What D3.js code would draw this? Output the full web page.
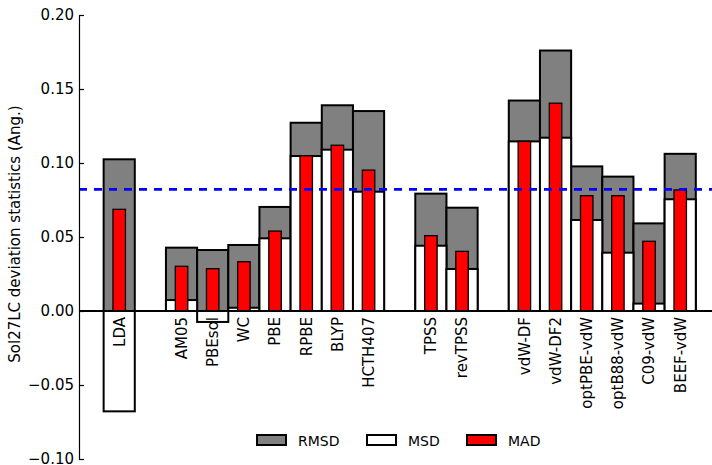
<!DOCTYPE html>
<html>
<head>
<meta charset="utf-8">
<script src="https://cdn.jsdelivr.net/npm/d3@7"></script>
<style>
  html, body { margin: 0; padding: 0; background: #fff; }
  svg { display: block; font-family: "DejaVu Sans", sans-serif; }
</style>
</head>
<body>
<svg id="chart" width="712" height="465"></svg>
<script>
// Sol27LC lattice-constant deviation statistics per functional (Å)
const categories = ["LDA", "AM05", "PBEsol", "WC", "PBE", "RPBE", "BLYP", "HCTH407",
  "TPSS", "revTPSS", "vdW-DF", "vdW-DF2", "optPBE-vdW", "optB88-vdW", "C09-vdW", "BEEF-vdW"];
const families = ["LDA", "GGA", "GGA", "GGA", "GGA", "GGA", "GGA", "GGA",
  "MGGA", "MGGA", "vdW", "vdW", "vdW", "vdW", "vdW", "vdW"];
const rmsd = [0.1025, 0.0428, 0.0412, 0.0446, 0.0703, 0.1272, 0.1390, 0.1351,
  0.0793, 0.0698, 0.1422, 0.1760, 0.0977, 0.0908, 0.0592, 0.1062];
const msd = [-0.0678, 0.0074, -0.0074, 0.0022, 0.0491, 0.1047, 0.1090, 0.0806,
  0.0441, 0.0284, 0.1146, 0.1171, 0.0615, 0.0394, 0.0050, 0.0755];
const mad = [0.0687, 0.0302, 0.0286, 0.0333, 0.0540, 0.1049, 0.1120, 0.0952,
  0.0509, 0.0403, 0.1146, 0.1404, 0.0779, 0.0779, 0.0471, 0.0818];
const referenceLine = 0.0822;
const yTicks = [-0.10, -0.05, 0.00, 0.05, 0.10, 0.15, 0.20];
const seriesNames = ["RMSD", "MSD", "MAD"];

// slot index per functional: one empty slot between families
const slots = [];
categories.forEach((c, i) => {
  const s = i === 0 ? 0 : slots[i - 1] + 1 + (families[i] !== families[i - 1] ? 1 : 0);
  slots.push(s);
});

const svg = d3.select("#chart");
const plotLeft = 79, plotRight = 712, plotTop = 15, plotBottom = 459;

const x = d3.scaleLinear().domain([-1.29, 19.02]).range([plotLeft, plotRight]);
const y = d3.scaleLinear().domain([-0.10, 0.20]).range([plotBottom, plotTop]);
const unit = x(1) - x(0);

const rows = categories.map((c, i) => ({ name: c, slot: slots[i], rmsd: rmsd[i], msd: msd[i], mad: mad[i] }));

const bars = svg.append("g");
// RMSD (grey, full width)
bars.selectAll("rect.rmsd").data(rows).join("rect").attr("class", "rmsd")
  .attr("x", d => x(d.slot - 0.5)).attr("width", unit)
  .attr("y", d => y(Math.max(0, d.rmsd))).attr("height", d => Math.abs(y(d.rmsd) - y(0)))
  .attr("fill", "#808080").attr("stroke", "#000").attr("stroke-width", 2);
// MSD (white, full width)
bars.selectAll("rect.msd").data(rows).join("rect").attr("class", "msd")
  .attr("x", d => x(d.slot - 0.5)).attr("width", unit)
  .attr("y", d => y(Math.max(0, d.msd))).attr("height", d => Math.abs(y(d.msd) - y(0)))
  .attr("fill", "#fff").attr("stroke", "#000").attr("stroke-width", 2);
// MAD (red, narrow)
bars.selectAll("rect.mad").data(rows).join("rect").attr("class", "mad")
  .attr("x", d => x(d.slot - 0.2)).attr("width", x(0.4) - x(0))
  .attr("y", d => y(Math.max(0, d.mad))).attr("height", d => Math.abs(y(d.mad) - y(0)))
  .attr("fill", "#ff0000").attr("stroke", "#000").attr("stroke-width", 1.3);

// reference level
svg.append("line")
  .attr("x1", plotLeft).attr("x2", plotRight)
  .attr("y1", y(referenceLine)).attr("y2", y(referenceLine))
  .attr("stroke", "#0000ff").attr("stroke-width", 2.6).attr("stroke-dasharray", "8,7");

// zero line
svg.append("line")
  .attr("x1", plotLeft).attr("x2", plotRight).attr("y1", y(0)).attr("y2", y(0))
  .attr("stroke", "#000").attr("stroke-width", 2);

// y axis with inward ticks
const yAxis = d3.axisLeft(y).tickValues(yTicks).tickSizeInner(-5).tickSizeOuter(0).tickPadding(5)
  .tickFormat(d => d3.format(".2f")(d).replace("-", "\u2212"));
const ya = svg.append("g").attr("transform", `translate(${plotLeft},0)`).call(yAxis);
ya.select(".domain").attr("stroke", "#000").attr("stroke-width", 1.2);
ya.selectAll(".tick line").attr("stroke", "#000").attr("stroke-width", 1.2);
ya.selectAll(".tick text").attr("font-size", 15).attr("fill", "#000")
  .attr("font-family", "DejaVu Sans");

// y label
svg.append("text")
  .attr("transform", `translate(20,${(plotTop + plotBottom) / 2 - 3}) rotate(-90)`)
  .attr("text-anchor", "middle").attr("font-size", 15).attr("fill", "#000")
  .text("Sol27LC deviation statistics (Ang.)");

// category labels under the zero line
svg.append("g").selectAll("text").data(rows).join("text")
  .attr("transform", d => `translate(${x(d.slot) + 5.4},${y(0) + 6}) rotate(-90)`)
  .attr("text-anchor", "end").attr("font-size", 15).attr("fill", "#000")
  .text(d => d.name);

// legend
const legendFill = { RMSD: "#808080", MSD: "#fff", MAD: "#ff0000" };
const legendX = [257, 367, 467];
const lg = svg.append("g");
seriesNames.forEach((s, i) => {
  lg.append("rect").attr("x", legendX[i]).attr("y", 435).attr("width", 29).attr("height", 10)
    .attr("fill", legendFill[s]).attr("stroke", "#000").attr("stroke-width", 2);
  lg.append("text").attr("x", legendX[i] + 41).attr("y", 445.5)
    .attr("font-size", 14).attr("fill", "#000").text(s);
});
</script>
</body>
</html>
